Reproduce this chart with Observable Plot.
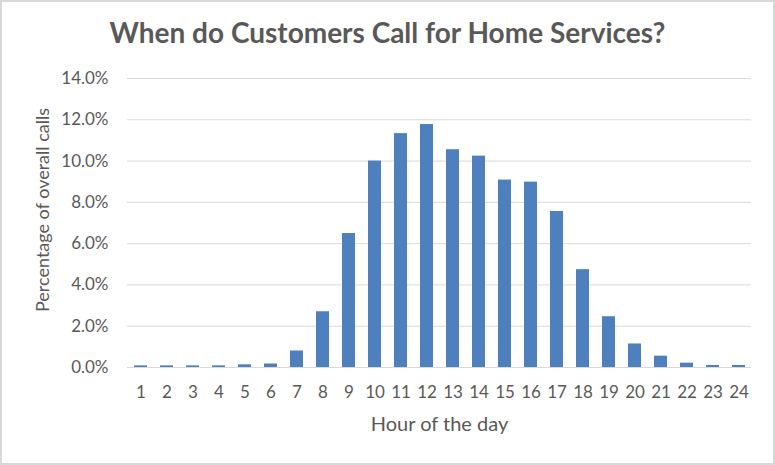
<!DOCTYPE html>
<html>
<head>
<meta charset="utf-8">
<script src="https://cdn.jsdelivr.net/npm/d3@7"></script>
<script src="https://cdn.jsdelivr.net/npm/@observablehq/plot@0.6"></script>
<style>
  html, body { margin: 0; padding: 0; background: #fff; }
  #wrap { width: 771px; height: 461px; border: 2px solid #d9d9d9; background: #fff; overflow: hidden; }
  #title { height: 62px; line-height: 60px; text-align: center; font-family: Lato, sans-serif; font-weight: bold; font-size: 28px; color: #595959; }
</style>
</head>
<body>
<div id="wrap">
  <div id="title">When do Customers Call for Home Services?</div>
  <div id="chart"></div>
</div>
<script>
const hours = ["1","2","3","4","5","6","7","8","9","10","11","12","13","14","15","16","17","18","19","20","21","22","23","24"];
const percents = [0.08, 0.08, 0.08, 0.08, 0.13, 0.17, 0.80, 2.70, 6.49, 10.0, 11.33, 11.77, 10.55, 10.24, 9.08, 8.98, 7.56, 4.74, 2.46, 1.14, 0.55, 0.21, 0.10, 0.10];
const yTicks = [0, 2, 4, 6, 8, 10, 12, 14];
const xTitle = "Hour of the day";
const yTitle = "Percentage of overall calls";

const data = hours.map((h, i) => ({hour: h, pct: percents[i]}));
const textColor = "#595959";
const gridColor = "#d9d9d9";

const chart = Plot.plot({
  width: 771,
  height: 397,
  marginTop: 14,
  marginBottom: 94,
  marginLeft: 125,
  marginRight: 22,
  style: {fontFamily: "Lato, sans-serif", fontSize: "17px", color: textColor, background: "#fff"},
  x: {domain: hours, paddingInner: 0.5, paddingOuter: 0.25, label: null},
  y: {domain: [0, 14], label: null},
  marks: [
    Plot.gridY(yTicks, {stroke: gridColor, strokeOpacity: 1, strokeWidth: 1}),
    Plot.barY(data, {x: "hour", y: "pct", fill: "#4e80bd"}),
    Plot.ruleY([0], {stroke: gridColor, strokeWidth: 1}),
    Plot.axisX({tickSize: 0, tickPadding: 18, label: null, fill: textColor, fontSize: 17}),
    Plot.axisY({ticks: yTicks, tickSize: 0, tickPadding: 19, label: null, tickFormat: d => d.toFixed(1) + "%", fill: textColor, fontSize: 17}),
    Plot.text([xTitle], {frameAnchor: "bottom", textAnchor: "middle", dy: 63, fill: textColor, fontSize: 20, text: d => d}),
    Plot.text([yTitle], {frameAnchor: "left", textAnchor: "middle", lineAnchor: "middle", dx: -84, dy: -13, rotate: -90, fill: textColor, fontSize: 18, text: d => d})
  ]
});
document.getElementById("chart").appendChild(chart);
</script>
</body>
</html>
